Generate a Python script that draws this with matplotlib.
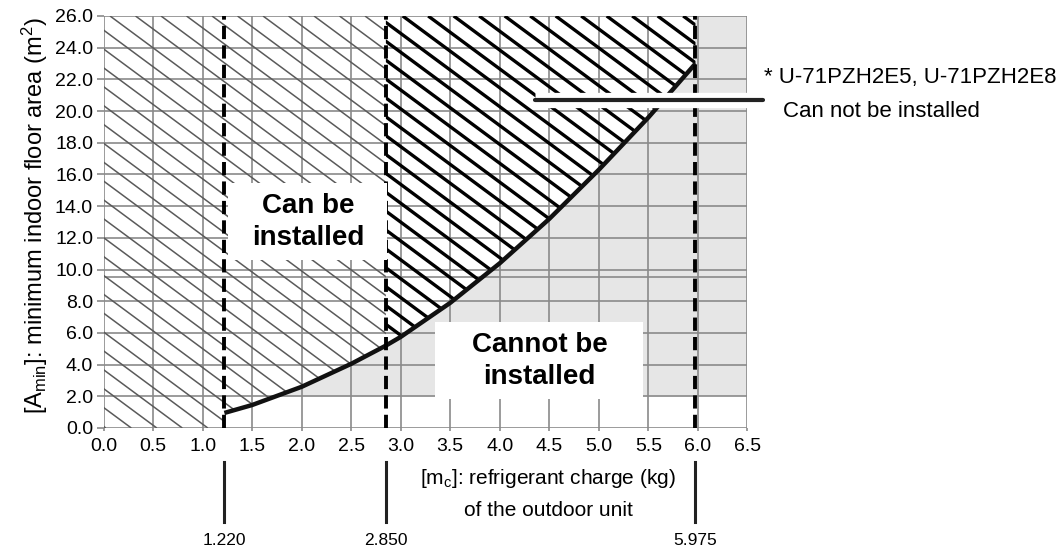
import numpy as np
import matplotlib
matplotlib.use("Agg")
import matplotlib.pyplot as plt
from matplotlib.collections import LineCollection
from matplotlib.patches import Polygon, Rectangle
import matplotlib.patheffects as pe

# ---------------- data ----------------
charge_kg = [1.22, 1.5, 2.0, 2.5, 2.85, 3.0, 3.5, 4.0, 4.5, 5.0, 5.5, 5.975]
min_area_m2 = [0.95, 1.45, 2.6, 4.05, 5.2, 5.75, 7.9, 10.4, 13.2, 16.3, 19.6, 23.0]
limit_charges = [1.22, 2.85, 5.975]
limit_labels = ["1.220", "2.850", "5.975"]
x_ticks = [0.0, 0.5, 1.0, 1.5, 2.0, 2.5, 3.0, 3.5, 4.0, 4.5, 5.0, 5.5, 6.0, 6.5]
y_ticks = [0.0, 2.0, 4.0, 6.0, 8.0, 10.0, 12.0, 14.0, 16.0, 18.0, 20.0, 22.0, 24.0, 26.0]
note_lines = ["* U-71PZH2E5, U-71PZH2E8", "Can not be installed"]

FONT = ["Liberation Sans", "DejaVu Sans"]
plt.rcParams["font.family"] = FONT
plt.rcParams["mathtext.fontset"] = "custom"
plt.rcParams["mathtext.rm"] = "Liberation Sans"
plt.rcParams["mathtext.it"] = "Liberation Sans:italic"
plt.rcParams["mathtext.bf"] = "Liberation Sans:bold"

W, H = 1063, 553
fig = plt.figure(figsize=(W / 100, H / 100), dpi=100)
ax = fig.add_axes([103.5 / W, 125 / H, 644 / W, 412 / H])
ax.set_xlim(0, 6.5)
ax.set_ylim(0, 26)

mc = np.array(charge_kg)
am = np.array(min_area_m2)
x1, x2, x3 = limit_charges
GRAY = "#e6e6e6"

# gray "cannot be installed" background
ax.fill_between(mc, 2.0, am, where=am >= 2.0, interpolate=True, color=GRAY, lw=0, zorder=0.2)
ax.add_patch(Rectangle((x3, 2.0), 6.5 - x3, 24.0, color=GRAY, lw=0, zorder=0.2))

# grid
for xv in x_ticks:
    ax.axvline(xv, color="#8a8a8a", lw=1.2, zorder=1)
for yv in y_ticks:
    ax.axhline(yv, color="#8a8a8a", lw=1.2, zorder=1)
ax.axhline(9.5, color="#8a8a8a", lw=1.2, zorder=1)

for s in ax.spines.values():
    s.set_visible(False)
ax.set_xticks(x_ticks)
ax.set_yticks(y_ticks)
ax.set_xticklabels([f"{v:.1f}" for v in x_ticks], fontsize=14)
ax.set_yticklabels([f"{v:.1f}" for v in y_ticks], fontsize=14)
ax.tick_params(axis="y", length=5, width=1.2, color="#8a8a8a", pad=2.5)
ax.tick_params(axis="x", length=2, width=1.2, color="#8a8a8a", pad=5)

# hatch helper
slope = -0.74 * (26 / 412) / (6.5 / 644)   # data units
step = 25.5 * 6.5 / 644


def hatch(poly_pts, phase, lw, color, z):
    poly = Polygon(poly_pts, closed=True, facecolor="none", edgecolor="none",
                   transform=ax.transData)
    ax.add_patch(poly)
    x0s = np.arange(phase - 12 * step * 3, 6.6, step)
    segs = [[(x0, 26.0), (x0 - 26.0 / slope, 0.0)] for x0 in x0s]
    lc = LineCollection(segs, colors=color, linewidths=lw, zorder=z)
    ax.add_collection(lc)
    lc.set_clip_path(poly)


left_mask = mc <= x2 + 1e-9
light_poly = [(0, 0), (x1, 0)] + list(zip(mc[left_mask], am[left_mask])) + [(x2, 26), (0, 26)]
hatch(light_poly, 0.066, 1.1, "#5a5a5a", 2)

right_mask = mc >= x2 - 1e-9
bold_poly = list(zip(mc[right_mask], am[right_mask])) + [(x3, 26), (x2, 26)]
hatch(bold_poly, 3.02, 2.4, "black", 2.1)

# curve
ax.plot(mc, am, color="#111111", lw=3.2, solid_capstyle="butt", solid_joinstyle="round",
        zorder=3)

# dashed limit lines
for xv in limit_charges:
    ax.plot([xv, xv], [0, 26], color="black", lw=2.8, dashes=(3.4, 1.6), zorder=4)
    ax.plot([xv, xv], [-2.15, -5.95], color="#222222", lw=2.2, clip_on=False, zorder=4)
for xv, lab in zip(limit_charges, limit_labels):
    ax.text(xv, -7.1, lab, ha="center", va="center", fontsize=12.5, clip_on=False)

# label boxes
ax.add_patch(Rectangle((1.255, 10.6), 1.61, 4.86, color="white", lw=0, zorder=5))
ax.text(2.07, 13.0, "Can be\ninstalled", ha="center", va="center", fontsize=20,
        fontweight="bold", linespacing=1.3, zorder=6)
ax.add_patch(Rectangle((3.35, 1.83), 2.1, 4.86, color="white", lw=0, zorder=5))
ax.text(4.4, 4.25, "Cannot be\ninstalled", ha="center", va="center", fontsize=20,
        fontweight="bold", linespacing=1.3, zorder=6)

# annotation line and note
ax.plot([4.36, 6.66], [20.7, 20.7], color="#222222", lw=3, solid_capstyle="round",
        clip_on=False, zorder=7,
        path_effects=[pe.withStroke(linewidth=11, foreground="white", capstyle="butt")])
ax.text(6.665, 22.15, note_lines[0], ha="left", va="center", fontsize=16, clip_on=False)
ax.text(6.855, 19.95, note_lines[1], ha="left", va="center", fontsize=16, clip_on=False)

# axis labels
fig.text(548 / W, 1 - 478 / H, r"[m$_{\mathrm{c}}$]: refrigerant charge (kg)",
         ha="center", va="center", fontsize=15)
fig.text(548 / W, 1 - 510 / H, "of the outdoor unit", ha="center", va="center", fontsize=15)
fig.text(35 / W, 1 - 216 / H, r"[A$_{\mathrm{min}}$]: minimum indoor floor area (m$^{2}$)",
         ha="center", va="center", rotation=90, fontsize=17)

fig.savefig("out.png", dpi=100)
